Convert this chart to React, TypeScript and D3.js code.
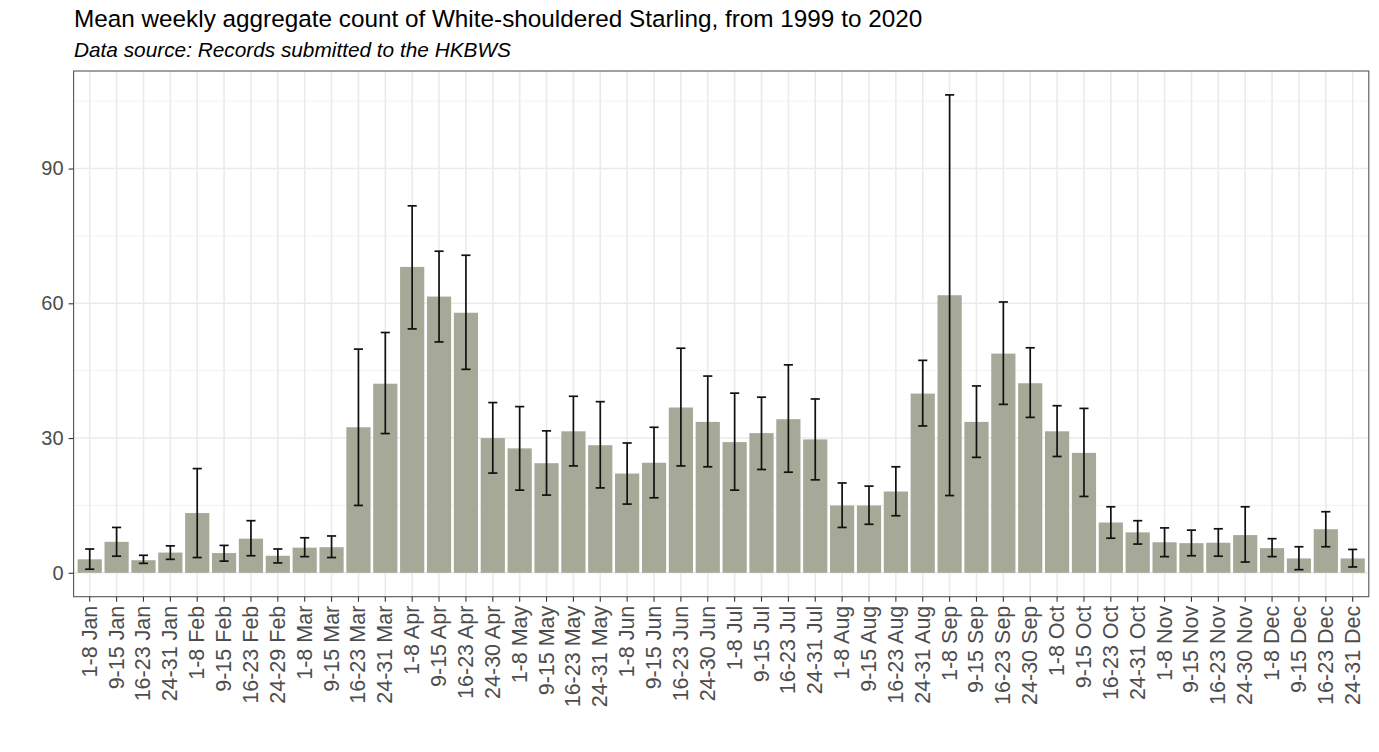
import { useEffect, useRef } from "react"
import * as d3 from "d3"

// week bins, Jan through Dec
const weeks = [
  "1-8 Jan", "9-15 Jan", "16-23 Jan", "24-31 Jan",
  "1-8 Feb", "9-15 Feb", "16-23 Feb", "24-29 Feb",
  "1-8 Mar", "9-15 Mar", "16-23 Mar", "24-31 Mar",
  "1-8 Apr", "9-15 Apr", "16-23 Apr", "24-30 Apr",
  "1-8 May", "9-15 May", "16-23 May", "24-31 May",
  "1-8 Jun", "9-15 Jun", "16-23 Jun", "24-30 Jun",
  "1-8 Jul", "9-15 Jul", "16-23 Jul", "24-31 Jul",
  "1-8 Aug", "9-15 Aug", "16-23 Aug", "24-31 Aug",
  "1-8 Sep", "9-15 Sep", "16-23 Sep", "24-30 Sep",
  "1-8 Oct", "9-15 Oct", "16-23 Oct", "24-31 Oct",
  "1-8 Nov", "9-15 Nov", "16-23 Nov", "24-30 Nov",
  "1-8 Dec", "9-15 Dec", "16-23 Dec", "24-31 Dec",
]

const meanCount = [
  3.0, 6.9, 2.8, 4.5, 13.3, 4.4, 7.6, 3.8, 5.6, 5.7, 32.4, 42.1,
  68.1, 61.5, 57.9, 30.0, 27.7, 24.4, 31.5, 28.4, 22.1, 24.5, 36.8, 33.6,
  29.1, 31.1, 34.2, 29.7, 15.0, 15.0, 18.1, 39.9, 61.8, 33.6, 48.8, 42.2,
  31.5, 26.7, 11.2, 9.0, 6.8, 6.6, 6.7, 8.4, 5.5, 3.2, 9.7, 3.2,
]

const upperCount = [
  5.3, 10.1, 3.9, 6.0, 23.2, 6.1, 11.6, 5.3, 7.8, 8.2, 49.8, 53.5,
  81.7, 71.6, 70.7, 37.9, 37.0, 31.6, 39.3, 38.1, 28.9, 32.4, 50.0, 43.8,
  40.0, 39.1, 46.3, 38.7, 20.0, 19.3, 23.6, 47.3, 106.4, 41.6, 60.3, 50.1,
  37.2, 36.6, 14.7, 11.6, 10.0, 9.5, 9.8, 14.7, 7.6, 5.8, 13.6, 5.2,
]

const lowerCount = [
  0.8, 3.7, 2.1, 3.0, 3.4, 2.6, 3.8, 2.2, 3.6, 3.4, 15.0, 31.0,
  54.3, 51.4, 45.3, 22.2, 18.4, 17.3, 23.8, 18.9, 15.3, 16.7, 23.8, 23.6,
  18.4, 23.0, 22.4, 20.7, 10.1, 10.8, 12.7, 32.7, 17.2, 25.7, 37.5, 34.6,
  25.9, 17.0, 7.7, 6.4, 3.6, 3.8, 3.7, 2.4, 3.6, 0.7, 5.8, 1.3,
]

const yTicks = [0, 30, 60, 90]
const yMinorTicks = [15, 45, 75, 105]

const title = "Mean weekly aggregate count of White-shouldered Starling, from 1999 to 2020"
const subtitle = "Data source: Records submitted to the HKBWS"

const W = 1379
const H = 752
const FONT = "'Liberation Sans', Arial, Helvetica, sans-serif"

export default function App() {
  const svgRef = useRef<SVGSVGElement>(null)

  useEffect(() => {
    document.body.style.margin = "0"
    if (!svgRef.current) return
    const svg = d3.select(svgRef.current)
    svg.selectAll("*").remove()

    const panel = { left: 73.6, right: 1368.8, top: 71, bottom: 596.7 }

    // ggplot-like expansion: 5% on continuous axis
    const yMax = d3.max(upperCount) as number
    const pad = yMax * 0.05
    const y = d3.scaleLinear().domain([-pad, yMax + pad]).range([panel.bottom, panel.top])

    const x = d3.scaleBand<string>()
      .domain(weeks)
      .range([panel.left, panel.right])
      .paddingInner(0.1)
      .paddingOuter(0.15)

    const g = svg.append("g")

    // panel background + grid
    g.append("rect")
      .attr("x", panel.left).attr("y", panel.top)
      .attr("width", panel.right - panel.left).attr("height", panel.bottom - panel.top)
      .attr("fill", "#fff")

    g.selectAll("line.minor")
      .data(yMinorTicks)
      .enter().append("line")
      .attr("x1", panel.left).attr("x2", panel.right)
      .attr("y1", (d: number) => y(d)).attr("y2", (d: number) => y(d))
      .attr("stroke", "#f2f2f2").attr("stroke-width", 1)

    g.selectAll("line.major")
      .data(yTicks)
      .enter().append("line")
      .attr("x1", panel.left).attr("x2", panel.right)
      .attr("y1", (d: number) => y(d)).attr("y2", (d: number) => y(d))
      .attr("stroke", "#ebebeb").attr("stroke-width", 1.6)

    g.selectAll("line.vgrid")
      .data(weeks)
      .enter().append("line")
      .attr("x1", (d: string) => (x(d) as number) + x.bandwidth() / 2)
      .attr("x2", (d: string) => (x(d) as number) + x.bandwidth() / 2)
      .attr("y1", panel.top).attr("y2", panel.bottom)
      .attr("stroke", "#ebebeb").attr("stroke-width", 1.6)

    // bars
    g.selectAll("rect.bar")
      .data(weeks)
      .enter().append("rect")
      .attr("x", (d: string) => x(d) as number)
      .attr("width", x.bandwidth())
      .attr("y", (_: string, i: number) => y(meanCount[i]))
      .attr("height", (_: string, i: number) => y(0) - y(meanCount[i]))
      .attr("fill", "#a6a898")

    // error bars
    const capHalf = x.step() * 0.17
    const eb = g.selectAll("g.err")
      .data(weeks)
      .enter().append("g")
      .attr("transform", (d: string) => `translate(${(x(d) as number) + x.bandwidth() / 2},0)`)
      .attr("stroke", "#111").attr("stroke-width", 1.7)

    eb.append("line")
      .attr("y1", (_: string, i: number) => y(lowerCount[i]))
      .attr("y2", (_: string, i: number) => y(upperCount[i]))
    eb.append("line")
      .attr("x1", -capHalf).attr("x2", capHalf)
      .attr("y1", (_: string, i: number) => y(upperCount[i]))
      .attr("y2", (_: string, i: number) => y(upperCount[i]))
    eb.append("line")
      .attr("x1", -capHalf).attr("x2", capHalf)
      .attr("y1", (_: string, i: number) => y(lowerCount[i]))
      .attr("y2", (_: string, i: number) => y(lowerCount[i]))

    // panel border
    g.append("rect")
      .attr("x", panel.left).attr("y", panel.top)
      .attr("width", panel.right - panel.left).attr("height", panel.bottom - panel.top)
      .attr("fill", "none").attr("stroke", "#555").attr("stroke-width", 1.1)

    // y axis
    const yAxis = g.append("g")
      .attr("transform", `translate(${panel.left},0)`)
      .call(d3.axisLeft(y).tickValues(yTicks).tickSize(5).tickPadding(5).tickFormat(d3.format("d")))
    yAxis.select(".domain").remove()
    yAxis.selectAll("line").attr("stroke", "#333").attr("stroke-width", 1.1)
    yAxis.selectAll("text")
      .attr("font-family", FONT).attr("font-size", 20).attr("fill", "#4d4d4d")

    // x axis
    const xAxis = g.append("g")
      .attr("transform", `translate(0,${panel.bottom})`)
      .call(d3.axisBottom(x).tickSize(5).tickSizeOuter(0))
    xAxis.select(".domain").remove()
    xAxis.selectAll("line").attr("stroke", "#333").attr("stroke-width", 1.1)
    xAxis.selectAll("text")
      .attr("font-family", FONT).attr("font-size", 21.5).attr("fill", "#4d4d4d")
      .attr("text-anchor", "end")
      .attr("dy", null)
      .attr("dominant-baseline", "central")
      .attr("y", 0)
      .attr("transform", "translate(0,9) rotate(-90)")

    // titles
    svg.append("text")
      .attr("x", 74).attr("y", 27)
      .attr("font-family", FONT).attr("font-size", 24.3).attr("fill", "#000")
      .text(title)
    svg.append("text")
      .attr("x", 74).attr("y", 57)
      .attr("font-family", FONT).attr("font-size", 20.8).attr("font-style", "italic").attr("fill", "#000")
      .text(subtitle)
  }, [])

  return <svg ref={svgRef} width={W} height={H} style={{ display: "block", background: "#fff" }} />
}
